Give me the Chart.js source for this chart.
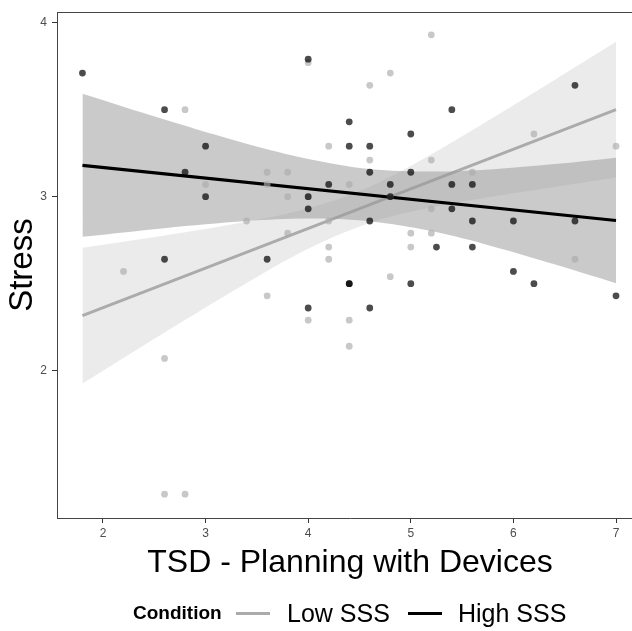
<!DOCTYPE html>
<html>
<head>
<meta charset="utf-8">
<script src="https://cdn.jsdelivr.net/npm/chart.js@4.4.1/dist/chart.umd.min.js"></script>
<style>
  body { margin: 0; background: #fff; }
  #wrap { position: relative; width: 632px; height: 631px; overflow: hidden; font-family: "Liberation Sans", Arial, sans-serif; }
  #stressChart { display: block; }
  #legend .txt { position: absolute; white-space: nowrap; color: #000; }
  #legend .key { position: absolute; width: 34px; height: 3px; }
</style>
</head>
<body>
<div id="wrap">
  <!-- the panel runs past the right edge of the picture, so the canvas is wider and clipped -->
  <canvas id="stressChart" width="647" height="631"></canvas>
  <div id="legend">
    <span class="txt" style="left:133px; top:602px; font-size:19px; line-height:22px; font-weight:bold;">Condition</span>
    <span class="key" style="left:236px; top:612px; background:#ababab;"></span>
    <span class="txt" style="left:287px; top:598px; font-size:25px; line-height:30px;">Low SSS</span>
    <span class="key" style="left:408px; top:612px; background:#000;"></span>
    <span class="txt" style="left:458px; top:598px; font-size:25px; line-height:30px;">High SSS</span>
  </div>
</div>
<script>
// tick labels
const xTicks = [2, 3, 4, 5, 6, 7];
const yTicks = [2, 3, 4];

// Low SSS points
const lowX = [2.8, 3.0, 4.0, 4.2, 3.6, 3.8, 3.6, 3.8, 3.4, 3.8, 4.2, 4.2, 4.2, 2.2, 3.6, 4.0, 2.6, 2.6, 2.8,
              5.2, 4.8, 4.6, 6.2, 7.0, 4.6, 5.2, 5.6, 4.4, 4.8, 5.2, 5.0, 5.2, 5.0, 6.6, 4.8, 4.4, 4.4, 4.0];
const lowY = [3.50, 3.07, 3.77, 3.29, 3.14, 3.14, 3.07, 3.00, 2.86, 2.79, 2.86, 2.71, 2.64, 2.57, 2.43, 2.29, 2.07, 1.29, 1.29,
              3.93, 3.71, 3.64, 3.36, 3.29, 3.21, 3.21, 3.14, 3.07, 3.00, 2.93, 2.79, 2.79, 2.71, 2.64, 2.54, 2.29, 2.14, 3.00];

// High SSS points
const highX = [1.8, 2.6, 3.0, 2.8, 3.0, 4.0, 4.2, 4.0, 2.6, 3.6, 4.0, 6.6, 5.4, 4.4, 5.0, 4.4, 4.6, 4.6, 5.0,
               4.8, 5.4, 5.6, 5.4, 4.6, 5.6, 6.0, 6.6, 5.25, 5.6, 4.4, 4.4, 5.0, 6.0, 6.2, 7.0, 4.6, 4.0, 4.8];
const highY = [3.71, 3.50, 3.29, 3.14, 3.00, 3.79, 3.07, 2.93, 2.64, 2.64, 2.36, 3.64, 3.50, 3.43, 3.36, 3.29, 3.29, 3.14, 3.14,
               3.07, 3.07, 3.07, 2.93, 2.86, 2.86, 2.86, 2.86, 2.71, 2.71, 2.50, 2.50, 2.50, 2.57, 2.50, 2.43, 2.36, 3.00, 3.00];

// fitted lines (ends)
const fitX = [1.8, 7.0];
const lowFit = [2.316, 3.500];
const highFit = [3.180, 2.863];

// confidence bands
const bandX = [1.8, 2.6, 3.4, 4.0, 4.6, 5.2, 5.8, 6.4, 7.0];
const lowUpper = [2.706, 2.777, 2.856, 2.933, 3.057, 3.243, 3.453, 3.670, 3.890];
const lowLower = [1.926, 2.219, 2.504, 2.701, 2.849, 2.937, 3.001, 3.056, 3.110];
const highUpper = [3.591, 3.443, 3.304, 3.217, 3.159, 3.144, 3.158, 3.187, 3.224];
const highLower = [2.769, 2.819, 2.860, 2.875, 2.859, 2.802, 2.714, 2.611, 2.502];

const pts = (xs, ys) => xs.map((x, i) => ({ x: x, y: ys[i] }));

const panelTop = {
  id: 'panelTop',
  afterDraw(chart) {
    const { ctx, chartArea } = chart;
    ctx.save();
    ctx.strokeStyle = '#444';
    ctx.lineWidth = 1;
    ctx.beginPath();
    ctx.moveTo(chartArea.left, Math.round(chartArea.top) + 0.5);
    ctx.lineTo(chartArea.right, Math.round(chartArea.top) + 0.5);
    ctx.stroke();
    ctx.restore();
  }
};

const bandStyle = { type: 'line', pointRadius: 0, borderWidth: 0, tension: 0.35 };

const ctx = document.getElementById('stressChart').getContext('2d');
new Chart(ctx, {
  type: 'scatter',
  data: {
    datasets: [
      Object.assign({ data: pts(bandX, lowUpper), fill: '+1', backgroundColor: 'rgba(153,153,153,0.2)', order: 9 }, bandStyle),
      Object.assign({ data: pts(bandX, lowLower), fill: false, order: 9 }, bandStyle),
      { type: 'line', data: pts(fitX, lowFit), borderColor: '#ababab', borderWidth: 2.8, pointRadius: 0, fill: false, order: 8 },
      Object.assign({ data: pts(bandX, highUpper), fill: '+1', backgroundColor: 'rgba(153,153,153,0.52)', order: 7 }, bandStyle),
      Object.assign({ data: pts(bandX, highLower), fill: false, order: 7 }, bandStyle),
      { type: 'line', data: pts(fitX, highFit), borderColor: '#000', borderWidth: 3.2, pointRadius: 0, fill: false, order: 6 },
      { label: 'Low SSS', data: pts(lowX, lowY), backgroundColor: 'rgba(172,172,172,0.66)', borderWidth: 0, pointRadius: 3.4, order: 5 },
      { label: 'High SSS', data: pts(highX, highY), backgroundColor: 'rgba(0,0,0,0.7)', borderWidth: 0, pointRadius: 3.4, order: 4 }
    ]
  },
  options: {
    responsive: false,
    animation: false,
    events: [],
    layout: { padding: { top: 9, right: 0, bottom: 47, left: 0 } },
    plugins: {
      legend: { display: false },
      tooltip: { enabled: false }
    },
    scales: {
      x: {
        type: 'linear',
        min: 1.552,
        max: 7.263,
        afterBuildTicks: (scale) => { scale.ticks = xTicks.map(v => ({ value: v })); },
        afterFit: (scale) => { scale.height = 66; },
        ticks: { color: '#4d4d4d', font: { family: 'Liberation Sans', size: 12 }, padding: 3 },
        grid: { display: true, drawOnChartArea: false, drawTicks: true, tickLength: 5, color: '#333' },
        border: { display: true, color: '#444', width: 1 },
        title: {
          display: true,
          text: 'TSD - Planning with Devices',
          color: '#000',
          font: { family: 'Liberation Sans', size: 32 },
          padding: { top: 0, bottom: 2 }
        }
      },
      y: {
        type: 'linear',
        min: 1.153,
        max: 4.06,
        afterBuildTicks: (scale) => { scale.ticks = yTicks.map(v => ({ value: v })); },
        afterFit: (scale) => { scale.width = 57; },
        ticks: { color: '#4d4d4d', font: { family: 'Liberation Sans', size: 12 }, padding: 5 },
        grid: { display: true, drawOnChartArea: false, drawTicks: true, tickLength: 5, color: '#333' },
        border: { display: true, color: '#444', width: 1 },
        title: {
          display: true,
          text: 'Stress',
          color: '#000',
          font: { family: 'Liberation Sans', size: 33 },
          padding: { top: 3, bottom: 0 }
        }
      }
    }
  },
  plugins: [panelTop]
});
</script>
</body>
</html>
